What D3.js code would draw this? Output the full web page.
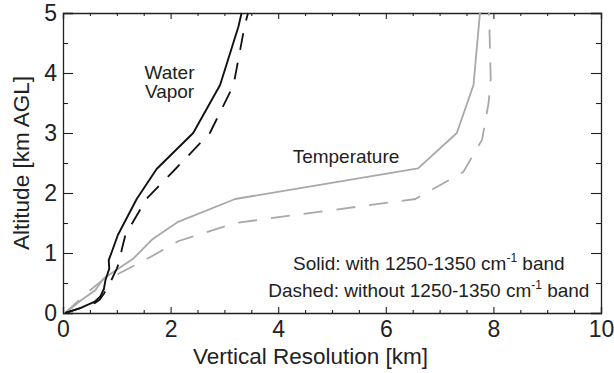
<!DOCTYPE html>
<html>
<head>
<meta charset="utf-8">
<script src="https://cdn.jsdelivr.net/npm/d3@7"></script>
<style>
  html, body { margin: 0; padding: 0; background: #fff; }
  svg text { font-family: "Liberation Sans", Arial, Helvetica, sans-serif; fill: #222; }
</style>
</head>
<body>
<svg id="chart" width="614" height="373"></svg>
<script>
// Vertical resolution (km) against altitude (km AGL), pairs of [resolution, altitude]
const waterSolid = [[0.04,0],[0.32,0.08],[0.59,0.19],[0.69,0.27],[0.76,0.4],[0.79,0.55],[0.86,0.74],[0.85,0.88],[0.92,1.05],[1.02,1.3],[1.37,1.9],[1.74,2.4],[2.42,3.0],[2.92,3.8],[3.26,4.77],[3.32,5.0]];
const waterDashed = [[0.04,0],[0.32,0.08],[0.6,0.17],[0.68,0.22],[0.76,0.32],[0.9,0.55],[1.0,0.74],[1.06,0.88],[1.09,1.05],[1.16,1.3],[1.55,1.9],[2.09,2.4],[2.73,3.0],[3.17,3.8],[3.38,4.8],[3.44,5.0]];
const tempSolid = [[0.04,0],[0.35,0.22],[0.6,0.38],[0.75,0.57],[1.31,0.91],[1.65,1.22],[2.14,1.52],[3.2,1.9],[6.6,2.41],[7.32,3.0],[7.63,3.8],[7.75,5.0]];
const tempDashed = [[0.04,0],[0.4,0.3],[0.75,0.56],[1.0,0.64],[1.5,0.87],[2.15,1.2],[3.2,1.5],[6.55,1.9],[7.44,2.35],[7.79,2.89],[7.91,3.5],[7.95,3.9],[7.92,5.0]];

const xMajorTicks = [0, 2, 4, 6, 8, 10];
const yMajorTicks = [0, 1, 2, 3, 4, 5];
const xTitle = "Vertical Resolution [km]";
const yTitle = "Altitude [km AGL]";
const curveLabels = [
  { lines: ["Water", "Vapor"], v: 1.98, a: 3.9 },
  { lines: ["Temperature"], v: 5.26, a: 2.5 }
];

const svg = d3.select("#chart");
const margin = { left: 63, right: 13, top: 13, bottom: 60 };
const W = 614, H = 373;
const x = d3.scaleLinear().domain([0, 10]).range([margin.left, W - margin.right]);
const y = d3.scaleLinear().domain([0, 5]).range([H - margin.bottom, margin.top]);

const axisColor = "#222";
const xMinor = d3.range(0, 10.001, 0.5);
const yMinor = d3.range(0, 5.001, 0.5);

// Bottom axis: ticks point into the plot
svg.append("g").attr("transform", `translate(0,${y(0)})`)
  .call(d3.axisBottom(x).tickValues(xMajorTicks).tickSize(-6).tickPadding(8).tickFormat(d3.format("d")));
svg.append("g").attr("transform", `translate(0,${y(0)})`)
  .call(d3.axisBottom(x).tickValues(xMinor.filter(d => d % 2 !== 0)).tickSize(-3).tickFormat(""))
  .call(g => g.select(".domain").remove());
// Top mirror axis
svg.append("g").attr("transform", `translate(0,${y(5)})`)
  .call(d3.axisTop(x).tickValues(xMajorTicks).tickSize(-6).tickFormat(""));
svg.append("g").attr("transform", `translate(0,${y(5)})`)
  .call(d3.axisTop(x).tickValues(xMinor.filter(d => d % 2 !== 0)).tickSize(-3).tickFormat(""))
  .call(g => g.select(".domain").remove());
// Left axis
svg.append("g").attr("transform", `translate(${x(0)},0)`)
  .call(d3.axisLeft(y).tickValues(yMajorTicks).tickSize(-10).tickPadding(6).tickFormat(d3.format("d")));
svg.append("g").attr("transform", `translate(${x(0)},0)`)
  .call(d3.axisLeft(y).tickValues(yMinor.filter(d => d % 1 !== 0)).tickSize(-5).tickFormat(""))
  .call(g => g.select(".domain").remove());
// Right mirror axis
svg.append("g").attr("transform", `translate(${x(10)},0)`)
  .call(d3.axisRight(y).tickValues(yMajorTicks).tickSize(-10).tickFormat(""));
svg.append("g").attr("transform", `translate(${x(10)},0)`)
  .call(d3.axisRight(y).tickValues(yMinor.filter(d => d % 1 !== 0)).tickSize(-5).tickFormat(""))
  .call(g => g.select(".domain").remove());

svg.selectAll(".domain").attr("stroke", axisColor).attr("stroke-width", 1.3);
svg.selectAll(".tick line").attr("stroke", axisColor).attr("stroke-width", 1.1);
svg.selectAll(".tick text").attr("font-size", 23).attr("fill", "#222")
  .style("font-family", '"Liberation Sans", Arial, sans-serif');

// Axis titles
svg.append("text").attr("x", x(4.6)).attr("y", 364)
  .attr("text-anchor", "middle").attr("font-size", 22.5).text(xTitle);
svg.append("text").attr("transform", `translate(29,${(y(0) + y(5)) / 2}) rotate(-90)`)
  .attr("text-anchor", "middle").attr("font-size", 22.5).text(yTitle);

// Curves
const line = d3.line().x(d => x(d[0])).y(d => y(d[1]));
const plot = svg.append("g");
const series = [
  { data: tempDashed, color: "#a8a8a8", width: 1.8, dash: "19,14" },
  { data: tempSolid, color: "#a8a8a8", width: 1.8, dash: null },
  { data: waterDashed, color: "#111", width: 1.8, dash: "17,13" },
  { data: waterSolid, color: "#111", width: 1.9, dash: null }
];
series.forEach(s => {
  plot.append("path").datum(s.data).attr("d", line)
    .attr("fill", "none").attr("stroke", s.color).attr("stroke-width", s.width)
    .attr("stroke-linejoin", "round")
    .attr("stroke-dasharray", s.dash);
});

// Curve labels
curveLabels.forEach(l => {
  const t = svg.append("text").attr("text-anchor", "middle").attr("font-size", 19);
  l.lines.forEach((s, i) => {
    t.append("tspan").attr("x", x(l.v)).attr("y", y(l.a) + i * 19).text(s);
  });
});

// Line-style key
const key = [
  { pre: "Solid: with 1250-1350 cm", post: " band", yv: 0.72 },
  { pre: "Dashed: without 1250-1350 cm", post: " band", yv: 0.27 }
];
key.forEach(k => {
  const t = svg.append("text").attr("text-anchor", "middle").attr("font-size", 19)
    .attr("x", x(6.8)).attr("y", y(k.yv));
  t.append("tspan").text(k.pre);
  t.append("tspan").attr("font-size", 12).attr("dy", -8).text("-1");
  t.append("tspan").attr("dy", 8).text(k.post);
});
</script>
</body>
</html>
